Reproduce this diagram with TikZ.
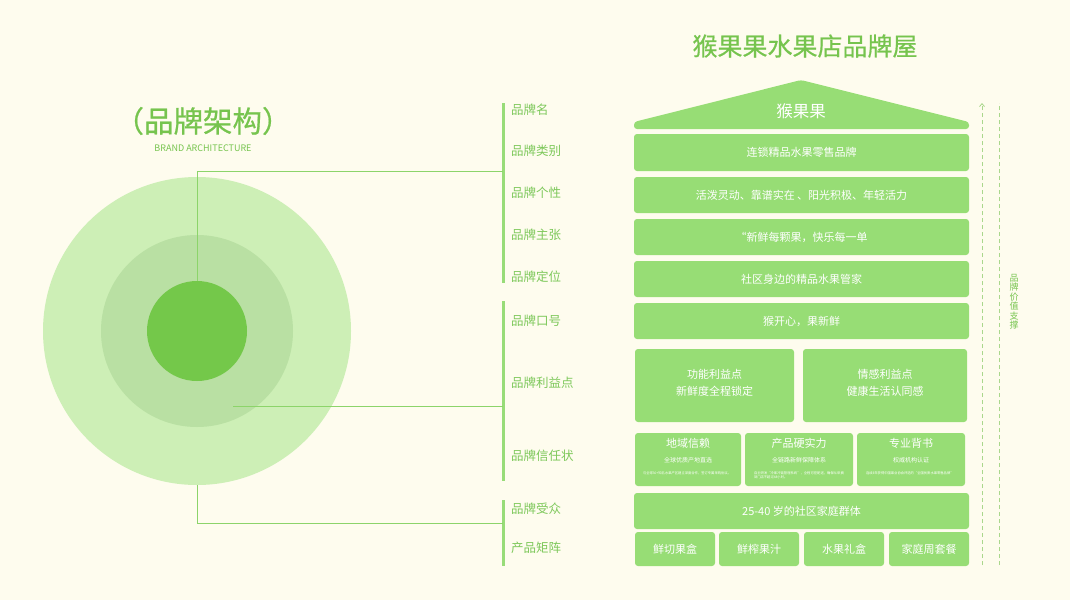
\documentclass[tikz,border=0pt]{standalone}
\usepackage{fontspec}
\setmainfont{Noto Sans CJK SC}
\newfontfamily\titlefont{Noto Sans CJK SC}[FakeBold=0.6]
\XeTeXlinebreaklocale "zh"
\XeTeXlinebreakskip=0pt plus 1pt
\usetikzlibrary{arrows.meta}
\definecolor{bg}{RGB}{254,252,238}
\definecolor{boxg}{RGB}{151,221,117}
\definecolor{txtg}{RGB}{118,196,78}
\definecolor{labg}{RGB}{125,200,90}
\definecolor{lineg}{RGB}{140,212,106}
\definecolor{brg}{RGB}{152,220,120}
\definecolor{couter}{RGB}{205,239,182}
\definecolor{cmid}{RGB}{185,224,163}
\definecolor{cinner}{RGB}{116,200,74}
\definecolor{dashg}{RGB}{170,215,140}
\begin{document}
\begin{tikzpicture}[x=1pt,y=-1pt,
  box/.style={fill=boxg, rounded corners=3pt, inner sep=0pt, text=white, align=center, font=\fontsize{11}{15}\selectfont},
  lab/.style={anchor=west, text=labg, inner sep=0pt, font=\fontsize{12.5}{14}\selectfont},
  conn/.style={draw=lineg, line width=0.9pt},
  brk/.style={draw=brg, line width=3pt},
  disc/.style={circle, inner sep=0pt, draw=none}]
\fill[bg] (0,0) rectangle (1070,600);
\useasboundingbox (0,0) rectangle (1070,600);

% left title
\node[text=txtg, font=\titlefont\fontsize{29.5}{31}\selectfont] (ttl) at (203,121) {（品牌架构）};
\node[text=txtg, font=\fontsize{9}{10}\selectfont] (sub) at (203,148) {BRAND ARCHITECTURE};

% circles
\node[disc, fill=couter, minimum size=308pt] (outer) at (197,331) {};
\node[disc, fill=cmid, minimum size=192pt] (mid) at (197,331) {};
\node[disc, fill=cinner, minimum size=100pt] (inner) at (197,331) {};

% brackets
\coordinate (b1t) at (503,103); \coordinate (b1b) at (503,283);
\coordinate (b2t) at (503,301); \coordinate (b2b) at (503,481);
\coordinate (b3t) at (503,500); \coordinate (b3b) at (503,566);
\draw[brk] (b1t) -- (b1b);
\draw[brk] (b2t) -- (b2b);
\draw[brk] (b3t) -- (b3b);

% connectors
\coordinate (c1) at (503,171);
\coordinate (c2) at (503,406);
\coordinate (c3) at (503,523);
\coordinate (ms) at (233,406);
\draw[conn] (inner.north) |- (c1);
\draw[conn] (ms) -- (c2);
\draw[conn] (outer.south) |- (c3);

% labels
\node[lab] (l1) at (511,110) {品牌名};
\node[lab] (l2) at (511,151) {品牌类别};
\node[lab] (l3) at (511,193) {品牌个性};
\node[lab] (l4) at (511,235) {品牌主张};
\node[lab] (l5) at (511,277) {品牌定位};
\node[lab] (l6) at (511,321) {品牌口号};
\node[lab] (l7) at (511,383) {品牌利益点};
\node[lab] (l8) at (511,456) {品牌信任状};
\node[lab] (l9) at (511,509) {品牌受众};
\node[lab] (l10) at (511,548) {产品矩阵};

% right title
\node[text=txtg, font=\titlefont\fontsize{25}{28}\selectfont] (rt) at (805,46) {猴果果水果店品牌屋};

% roof
\fill[boxg, rounded corners=3pt] (634,129) -- (634,122) -- (801,80) -- (969,122) -- (969,129) -- cycle;
\node[text=white, font=\fontsize{16.5}{18}\selectfont] (roof) at (801,111) {猴果果};

% rows
\node[box, minimum width=335pt, minimum height=37pt] (r1) at (801.5,152.5) {连锁精品水果零售品牌};
\node[box, minimum width=335pt, minimum height=36pt] (r2) at (801.5,195) {活泼灵动、靠谱实在 、阳光积极、年轻活力};
\node[box, minimum width=335pt, minimum height=36pt] (r3) at (801.5,237) {“新鲜每颗果，快乐每一单};
\node[box, minimum width=335pt, minimum height=36pt] (r4) at (801.5,279) {社区身边的精品水果管家};
\node[box, minimum width=335pt, minimum height=36pt] (r5) at (801.5,321) {猴开心，果新鲜};

\node[box, minimum width=159pt, minimum height=73pt] (b1) at (714.5,385.5) {};
\node[box, minimum width=164pt, minimum height=73pt] (b2) at (885,385.5) {};
\node[text=white, align=center, font=\fontsize{11}{17}\selectfont] (b1x) at (714.5,383) {功能利益点\\新鲜度全程锁定};
\node[text=white, align=center, font=\fontsize{11}{17}\selectfont] (b2x) at (885,383) {情感利益点\\健康生活认同感};

\node[box, minimum width=106pt, minimum height=53pt] (t1) at (688,459.5) {};
\node[box, minimum width=108pt, minimum height=53pt] (t2) at (799,459.5) {};
\node[box, minimum width=108pt, minimum height=53pt] (t3) at (911,459.5) {};
\foreach \n/\x/\a/\b/\c in {
  t1/688/地域信赖/全球优质产地直选/与全球30+知名水果产区建立深度合作，签订专属采购协议。,
  t2/799/产品硬实力/全链路新鲜保障体系/自主研发“冷库冷链管理系统”，全程可控配送，确保从采摘到门店不超过48小时。,
  t3/911/专业背书/权威机构认证/连续3年获得中国果业协会评选的“全国优质水果零售品牌”} {
  \node[text=white, font=\fontsize{11}{12}\selectfont, inner sep=0pt] (\n a) at (\x,443) {\a};
  \node[text=white, font=\fontsize{6}{7}\selectfont, inner sep=0pt] (\n b) at (\x,460) {\b};
  \node[text=white, font=\fontsize{3.3}{4.5}\selectfont, inner sep=0pt, text width=90pt, align=left, anchor=north] (\n c) at (\x,471) {\c};
}

\node[box, minimum width=335pt, minimum height=36pt] (r6) at (801.5,511) {25-40 岁的社区家庭群体};

\node[box, minimum width=80pt, minimum height=34pt] (p1) at (675,549) {鲜切果盒};
\node[box, minimum width=80pt, minimum height=34pt] (p2) at (759,549) {鲜榨果汁};
\node[box, minimum width=80pt, minimum height=34pt] (p3) at (844,549) {水果礼盒};
\node[box, minimum width=80pt, minimum height=34pt] (p4) at (929,549) {家庭周套餐};

% value support dashed lines
\coordinate (d1b) at (982,565); \coordinate (d1t) at (982,103);
\coordinate (d2b) at (999,565); \coordinate (d2t) at (999,103);
\draw[dashg, line width=0.8pt, dash pattern=on 4pt off 3pt, -{Straight Barb[length=3pt,width=5pt]}] (d1b) -- (d1t);
\draw[dashg, line width=0.8pt, dash pattern=on 4pt off 3pt] (d2b) -- (d2t);
\node[text=txtg, font=\fontsize{9}{9.5}\selectfont, align=center, inner sep=0pt] (vs) at (1014,302) {品\\牌\\价\\值\\支\\撑};
\end{tikzpicture}
\end{document}
